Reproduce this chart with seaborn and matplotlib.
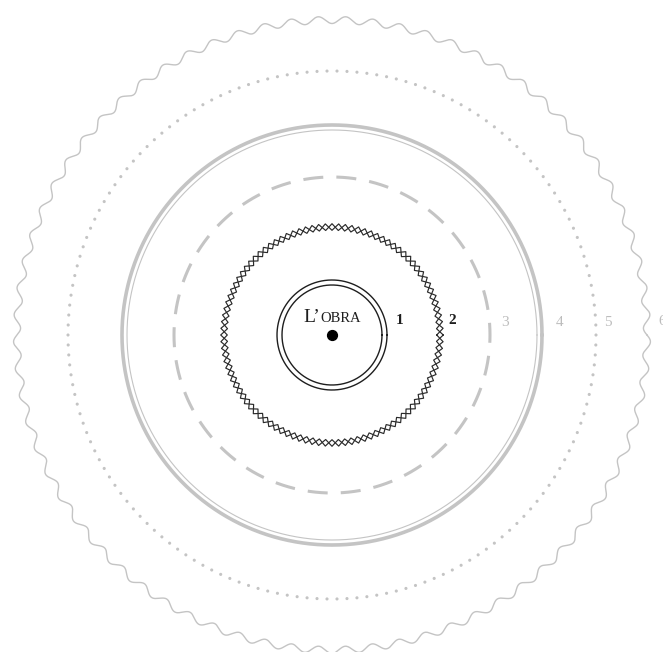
import numpy as np
import pandas as pd
import matplotlib
matplotlib.use("Agg")
import matplotlib.pyplot as plt
import seaborn as sns

sns.set_theme(style="white")
plt.rcParams['font.family'] = ['Liberation Serif', 'DejaVu Serif']

# ---- data ----
ring_labels = ["1", "2", "3", "4", "5", "6"]
ring_radii = [55, 108, 158, 210, 264, 315]
title_big = "L\u2019"
title_small = "OBRA"

W, H = 663, 652
cx, cy = 332, 335
dark = "#1e1e1e"
light = "#c4c4c4"

fig = plt.figure(figsize=(W / 100, H / 100), dpi=100)
ax = fig.add_axes([0, 0, 1, 1])
ax.set_xlim(0, W)
ax.set_ylim(H, 0)
ax.set_aspect("equal")
ax.axis("off")


def circle_df(r, n=720):
    t = np.linspace(0, 2 * np.pi, n + 1)
    return pd.DataFrame({"x": cx + r * np.cos(t), "y": cy + r * np.sin(t)})


def line(df, **kw):
    sns.lineplot(data=df, x="x", y="y", sort=False, estimator=None, ax=ax,
                 legend=False, **kw)


# ring 1: double black circle
line(circle_df(ring_radii[0]), color=dark, lw=1.0)
line(circle_df(ring_radii[0] - 5), color=dark, lw=1.0)

# ring 2: chain of diamonds
n_d = 104
R2 = ring_radii[1]
a2 = 3.3
k = np.arange(n_d + 1)
t = k * 2 * np.pi / n_d
sgn = np.where(k % 2 == 0, 1.0, -1.0)
for s in (1, -1):
    r = R2 + s * a2 * sgn
    line(pd.DataFrame({"x": cx + r * np.cos(t), "y": cy + r * np.sin(t)}),
         color="#2a2a2a", lw=0.85)

# ring 3: dashed grey
R3 = ring_radii[2]
circ3 = 2 * np.pi * R3
period = circ3 / 30
lw3 = 2.2
dash_px, gap_px = 20.0, period - 20.0
sc = lw3 / 0.72
line(circle_df(R3), color=light, lw=lw3,
     linestyle=(4, (dash_px / sc, gap_px / sc)))

# ring 4: double grey line (thick outer, thin inner)
line(circle_df(ring_radii[3]), color=light, lw=2.6)
line(circle_df(ring_radii[3] - 5), color=light, lw=0.8)

# ring 5: dotted
n_dots = 166
td = np.linspace(0, 2 * np.pi, n_dots, endpoint=False)
sns.scatterplot(x=cx + ring_radii[4] * np.cos(td), y=cy + ring_radii[4] * np.sin(td),
                s=5, color=light, edgecolor="none", ax=ax, legend=False)

# ring 6: wavy
n_w = 73
tw = np.linspace(0, 2 * np.pi, 4000)
rw = ring_radii[5] + 3.5 * np.sin(n_w * tw)
line(pd.DataFrame({"x": cx + rw * np.cos(tw), "y": cy + rw * np.sin(tw)}),
     color=light, lw=1.0)

# centre dot
ax.scatter([cx], [cy], s=50, color="black", zorder=5)

# title in small caps
ax.text(320, 322.5, title_big, ha="right", va="baseline", fontsize=14, color=dark)
ax.text(320, 322.5, title_small, ha="left", va="baseline", fontsize=10.5, color=dark)

# ring labels
label_x = [399.5, 452.5, 504.5, 560, 607.5, 662]
label_y = [323.5, 323.5, 326, 326, 326, 325]
for i, (lab, x, y) in enumerate(zip(ring_labels, label_x, label_y)):
    ax.text(x, y, lab, ha="center", va="baseline", fontsize=11,
            color=dark if i < 2 else "#bdbdbd",
            fontweight="bold" if i < 2 else "normal")

fig.savefig("out.png", dpi=100)
